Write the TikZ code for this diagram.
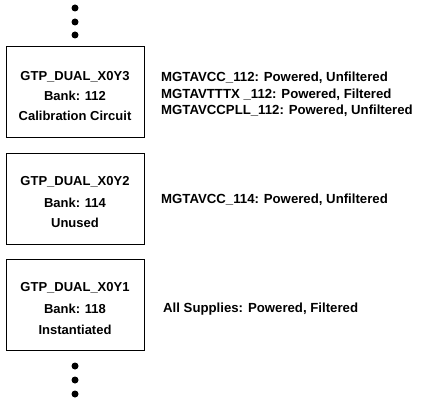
\documentclass[tikz,border=0pt]{standalone}
\usepackage{fontspec}
\setmainfont{Liberation Sans}
\begin{document}
\begin{tikzpicture}[x=1pt,y=-1pt,
  bankbox/.style={draw=black,line width=1pt,minimum width=138pt,minimum height=91pt,inner sep=0pt},
  boxtxt/.style={font=\bfseries\fontsize{13}{13}\selectfont,anchor=center,inner sep=0pt},
  sidetxt/.style={font=\bfseries\fontsize{13.2}{13}\selectfont,anchor=west,inner sep=0pt},
  dotmark/.style={circle,fill=black,minimum size=7pt,inner sep=0pt}]
\useasboundingbox (0,0) rectangle (447,406);
% top dots
\node[dotmark] (d1) at (75,8) {};
\node[dotmark] (d2) at (75,22) {};
\node[dotmark] (d3) at (75,35) {};
% boxes
\node[bankbox] (b3) at (75,92.5) {};
\node[boxtxt] (b3a) at (75,77) {GTP\_DUAL\_X0Y3};
\node[boxtxt] (b3b) at (75,96) {Bank: 112};
\node[boxtxt] (b3c) at (75,116) {Calibration Circuit};
\node[bankbox] (b2) at (75,199) {};
\node[boxtxt] (b2a) at (75,182) {GTP\_DUAL\_X0Y2};
\node[boxtxt] (b2b) at (75,203) {Bank: 114};
\node[boxtxt] (b2c) at (75,223) {Unused};
\node[bankbox] (b1) at (75,304.5) {};
\node[boxtxt] (b1a) at (75,288) {GTP\_DUAL\_X0Y1};
\node[boxtxt] (b1b) at (75,309) {Bank: 118};
\node[boxtxt] (b1c) at (75,330) {Instantiated};
% bottom dots
\node[dotmark] (e1) at (75,366) {};
\node[dotmark] (e2) at (75,380) {};
\node[dotmark] (e3) at (75,394) {};
% side labels
\node[sidetxt] (s1) at (161,78) {MGTAVCC\_112: Powered, Unfiltered};
\node[sidetxt] (s2) at (161,95) {MGTAVTTTX \_112: Powered, Filtered};
\node[sidetxt] (s3) at (161,111) {MGTAVCCPLL\_112: Powered, Unfiltered};
\node[sidetxt] (s4) at (161,200) {MGTAVCC\_114: Powered, Unfiltered};
\node[sidetxt] (s5) at (163,309) {All Supplies: Powered, Filtered};
\end{tikzpicture}
\end{document}
